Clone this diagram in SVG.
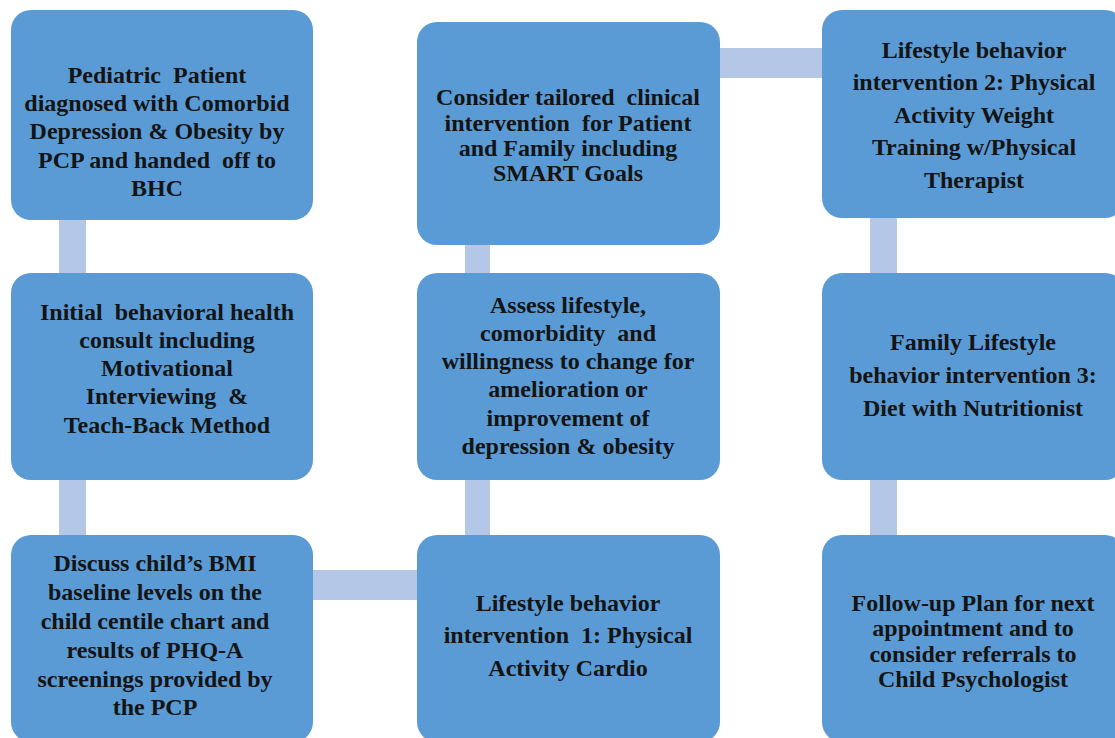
<svg xmlns="http://www.w3.org/2000/svg" width="1115" height="738" viewBox="0 0 1115 738">
<style>
.box{fill:#5b9bd5;}
.con{fill:#b4c7e7;}
text{font-family:"Liberation Serif","Times New Roman",serif;font-weight:bold;font-size:24px;fill:#141414;text-anchor:middle;white-space:pre;}
</style>
<rect width="1115" height="738" fill="#ffffff"/>
<g id="connectors">
<rect class="con" x="59" y="220" width="27" height="53"/>
<rect class="con" x="59" y="480" width="27" height="55"/>
<rect class="con" x="313" y="570" width="104" height="30"/>
<rect class="con" x="465" y="480" width="25" height="55"/>
<rect class="con" x="465" y="245" width="25" height="28"/>
<rect class="con" x="720" y="48" width="102" height="30"/>
<rect class="con" x="870" y="218" width="27" height="55"/>
<rect class="con" x="870" y="480" width="27" height="55"/>
</g>
<g id="n1">
<rect class="box" x="11" y="10" width="302" height="210" rx="20"/>
<text x="157" y="83" xml:space="preserve">Pediatric  Patient</text>
<text x="157" y="111">diagnosed with Comorbid</text>
<text x="157" y="139">Depression &amp; Obesity by</text>
<text x="157" y="168" xml:space="preserve">PCP and handed  off to</text>
<text x="157" y="196">BHC</text>
</g>
<g id="n2">
<rect class="box" x="11" y="273" width="302" height="207" rx="20"/>
<text x="167" y="320" xml:space="preserve">Initial  behavioral health</text>
<text x="167" y="348">consult including</text>
<text x="167" y="376">Motivational</text>
<text x="167" y="404" xml:space="preserve">Interviewing  &amp;</text>
<text x="167" y="433">Teach-Back Method</text>
</g>
<g id="n3">
<rect class="box" x="11" y="535" width="302" height="207" rx="20"/>
<text x="155" y="571">Discuss child’s BMI</text>
<text x="155" y="600">baseline levels on the</text>
<text x="155" y="629">child centile chart and</text>
<text x="155" y="658">results of PHQ-A</text>
<text x="155" y="687">screenings provided by</text>
<text x="155" y="715">the PCP</text>
</g>
<g id="n4">
<rect class="box" x="417" y="535" width="303" height="207" rx="20"/>
<text x="568" y="611">Lifestyle behavior</text>
<text x="568" y="643" xml:space="preserve">intervention  1: Physical</text>
<text x="568" y="676">Activity Cardio</text>
</g>
<g id="n5">
<rect class="box" x="417" y="273" width="303" height="207" rx="20"/>
<text x="568" y="313">Assess lifestyle,</text>
<text x="568" y="341" xml:space="preserve">comorbidity  and</text>
<text x="568" y="369">willingness to change for</text>
<text x="568" y="397">amelioration or</text>
<text x="568" y="426">improvement of</text>
<text x="568" y="454">depression &amp; obesity</text>
</g>
<g id="n6">
<rect class="box" x="417" y="22" width="303" height="223" rx="20"/>
<text x="568" y="105" xml:space="preserve">Consider tailored  clinical</text>
<text x="568" y="131" xml:space="preserve">intervention  for Patient</text>
<text x="568" y="156">and Family including</text>
<text x="568" y="181">SMART Goals</text>
</g>
<g id="n7">
<rect class="box" x="822" y="10" width="303" height="208" rx="20"/>
<text x="974" y="58">Lifestyle behavior</text>
<text x="974" y="90">intervention 2: Physical</text>
<text x="974" y="123">Activity Weight</text>
<text x="974" y="155">Training w/Physical</text>
<text x="974" y="188">Therapist</text>
</g>
<g id="n8">
<rect class="box" x="822" y="273" width="303" height="207" rx="20"/>
<text x="973" y="350">Family Lifestyle</text>
<text x="973" y="383">behavior intervention 3:</text>
<text x="973" y="416">Diet with Nutritionist</text>
</g>
<g id="n9">
<rect class="box" x="822" y="535" width="303" height="207" rx="20"/>
<text x="973" y="611">Follow-up Plan for next</text>
<text x="973" y="636">appointment and to</text>
<text x="973" y="662">consider referrals to</text>
<text x="973" y="687">Child Psychologist</text>
</g>
</svg>
